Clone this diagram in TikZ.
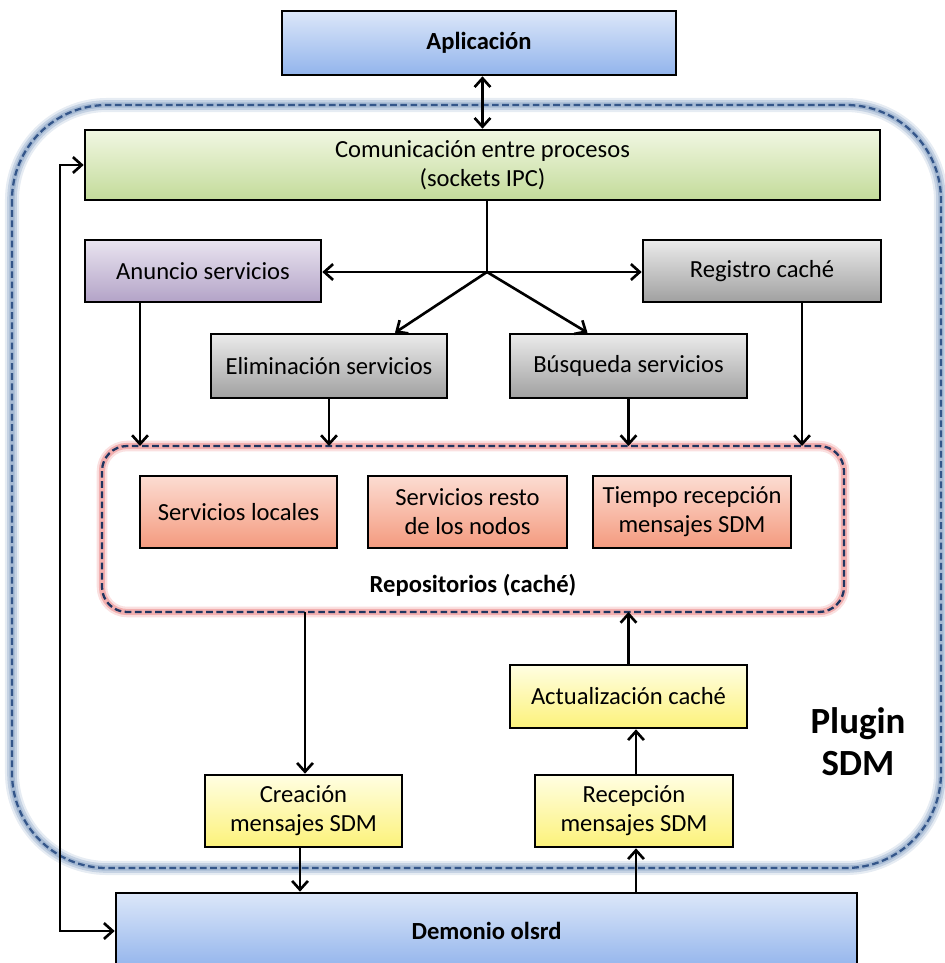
\documentclass[tikz,border=0pt]{standalone}
\usepackage{fontspec}
\setmainfont{Carlito}
\usetikzlibrary{arrows.meta,calc}

% gradient colours of the boxes
\definecolor{blueT}{HTML}{DCE7F9}
\definecolor{blueB}{HTML}{92B4EC}
\definecolor{greenT}{HTML}{F1F7E2}
\definecolor{greenB}{HTML}{C3DB9A}
\definecolor{purpT}{HTML}{E9E4F0}
\definecolor{purpB}{HTML}{B3A3C7}
\definecolor{greyT}{HTML}{EBEBEB}
\definecolor{greyB}{HTML}{A0A0A0}
\definecolor{salT}{HTML}{FCDCD2}
\definecolor{salB}{HTML}{F49A7E}
\definecolor{yelT}{HTML}{FFFEE2}
\definecolor{yelB}{HTML}{FCF27A}
% container outlines
\definecolor{plugGlow}{HTML}{9DB3CF}
\definecolor{plugLine}{HTML}{34568A}
\definecolor{repoGlow}{HTML}{EE9A9A}
\definecolor{repoLine}{HTML}{1F3560}

\tikzset{
  sz/.style 2 args={minimum width=#1*0.02cm, minimum height=#2*0.02cm},
  txt/.style={font=\fontsize{14}{16.5}\selectfont, align=center},
  boldtxt/.style={font=\bfseries\fontsize{14}{16.5}\selectfont, align=center},
  box/.style={draw=black, line width=1.5pt, inner sep=0pt, txt},
  bluebox/.style={box, top color=blueT, bottom color=blueB, font=\bfseries\fontsize{14}{16.5}\selectfont},
  greenbox/.style={box, top color=greenT, bottom color=greenB},
  purplebox/.style={box, top color=purpT, bottom color=purpB},
  greybox/.style={box, top color=greyT, bottom color=greyB},
  salmonbox/.style={box, top color=salT, bottom color=salB},
  yellowbox/.style={box, top color=yelT, bottom color=yelB},
  holder/.style={inner sep=0pt, outer sep=0pt},
  dashline/.style={line width=1.3pt, dashed, dash pattern=on 3.8pt off 2pt},
  arr/.style={line width=1.5pt, draw=black},
  >={Straight Barb[length=5pt,width=9pt]},
}

\begin{document}
\begin{tikzpicture}[x=0.02cm, y=-0.02cm]
  \useasboundingbox (0,0) rectangle (944,963);

  % Plugin SDM container: soft halo under a dashed outline
  \node[holder, sz={929}{763}] (plugin) at (476.5,486.5) {};
  \begin{scope}[rounded corners=1.9cm]
    \draw[plugGlow, line width=8pt, opacity=0.25] (plugin.north west) rectangle (plugin.south east);
    \draw[plugGlow, line width=5.5pt, opacity=0.45] (plugin.north west) rectangle (plugin.south east);
    \draw[plugGlow, line width=3pt, opacity=0.8] (plugin.north west) rectangle (plugin.south east);
    \draw[plugLine, dashline] (plugin.north west) rectangle (plugin.south east);
  \end{scope}
  \node[font=\bfseries\fontsize{21}{24}\selectfont, align=center] (pluglbl) at (858,742) {Plugin\\SDM};

  % repositories container
  \node[holder, sz={742}{166}] (repo) at (473,529) {};
  \begin{scope}[rounded corners=0.5cm]
    \draw[repoGlow, line width=6pt, opacity=0.3] (repo.north west) rectangle (repo.south east);
    \draw[repoGlow, line width=3.5pt, opacity=0.7] (repo.north west) rectangle (repo.south east);
    \draw[repoLine, dashline] (repo.north west) rectangle (repo.south east);
  \end{scope}
  \node[boldtxt] (repolbl) at (473,585) {Repositorios (caché)};

  % boxes
  \node[bluebox, sz={394}{64}] (app) at (479,43) {Aplicación};
  \node[greenbox, sz={795}{70}] (comm) at (482.5,165) {Comunicación entre procesos\\(sockets IPC)};
  \node[purplebox, sz={236}{62}] (anun) at (203,271) {Anuncio servicios};
  \node[greybox, sz={238}{62}] (regi) at (762,271) {Registro caché};
  \node[greybox, sz={236}{64}] (elim) at (329,366) {Eliminación servicios};
  \node[greybox, sz={237}{64}] (busq) at (628.5,366) {Búsqueda servicios};
  \node[salmonbox, sz={197}{72}] (sloc) at (238.5,512) {Servicios locales};
  \node[salmonbox, sz={199}{72}] (sres) at (467.5,512) {Servicios resto\\de los nodos};
  \node[salmonbox, sz={198}{72}] (tiem) at (692,512) {Tiempo recepción\\mensajes SDM};
  \node[yellowbox, sz={237}{63}] (actu) at (628.5,696.5) {Actualización caché};
  \node[yellowbox, sz={197}{72}] (crea) at (303.5,811) {Creación\\mensajes SDM};
  \node[yellowbox, sz={198}{72}] (rece) at (634,811) {Recepción\\mensajes SDM};
  \node[bluebox, sz={741}{76}] (demo) at (486.5,931) {Demonio olsrd};

  % helper coordinates for connector positions
  \coordinate (br) at (487,272);
  \coordinate (xa) at (140,0);
  \coordinate (xr) at (802,0);
  \coordinate (xc) at (305,0);
  \coordinate (xd) at (300,0);
  \coordinate (xu) at (636,0);
  \coordinate (lp) at (60,0);

  % application <-> IPC
  \draw[arr, <->] (comm.north |- app.south) -- (comm.north);

  % IPC fan-out
  \draw[arr] (comm.south -| br) -- (br);
  \draw[arr, ->] (br) -- (anun.east |- br);
  \draw[arr, ->] (br) -- (regi.west |- br);
  \draw[arr, ->] (br) -- ($(elim.north)+(66,0)$);
  \draw[arr, ->] (br) -- ($(busq.north)+(-41,0)$);

  % into the repositories
  \draw[arr, ->] (anun.south -| xa) -- (repo.north -| xa);
  \draw[arr, ->] (elim.south) -- (repo.north -| elim.south);
  \draw[arr, ->] (busq.south) -- (repo.north -| busq.south);
  \draw[arr, ->] (regi.south -| xr) -- (repo.north -| xr);

  % repositories <-> messages
  \draw[arr, ->] (repo.south -| xc) -- (crea.north -| xc);
  \draw[arr, ->] (actu.north) -- (repo.south -| actu.north);
  \draw[arr, ->] (rece.north -| xu) -- (actu.south -| xu);
  \draw[arr, ->] (crea.south -| xd) -- (demo.north -| xd);
  \draw[arr, ->] (demo.north -| xu) -- (rece.south -| xu);

  % daemon <-> IPC loop
  \draw[arr, <->] (comm.west) -- (comm.west -| lp) -- (demo.west -| lp) -- (demo.west);
\end{tikzpicture}
\end{document}
